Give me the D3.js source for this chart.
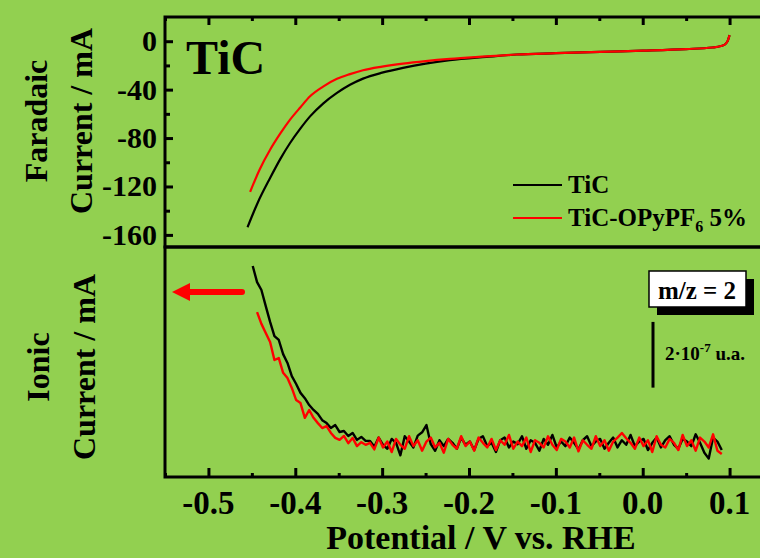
<!DOCTYPE html>
<html><head><meta charset="utf-8">
<script src="https://cdn.jsdelivr.net/npm/d3@7"></script>
<style>
html,body{margin:0;padding:0;background:#92D050;overflow:hidden;}
svg{display:block;}
text{font-family:"Liberation Serif","Times New Roman",serif;font-weight:bold;fill:#000;}
</style></head>
<body>
<svg id="chart" width="760" height="558"></svg>
<script>
// ---------- DATA ----------
const xTicks = [-0.5, -0.4, -0.3, -0.2, -0.1, 0.0, 0.1];
const yTicksFaradaic = [0, -40, -80, -120, -160];
const seriesNames = ["TiC", "TiC-OPyPF6 5%"];

// Faradaic current (mA) vs potential (V vs RHE)
const potFaradaicTiC = [-0.455,-0.443,-0.429,-0.417,-0.406,-0.394,-0.383,-0.368,-0.352,-0.337,-0.322,-0.300,-0.276,-0.250,-0.222,-0.180,-0.145,-0.100,-0.049,0.000,0.050,0.080,0.090,0.095,0.098,0.100];
const faradaicTiC = [-153.7,-133,-113,-97,-84.1,-72,-62.1,-51.5,-42.7,-36,-30.9,-26,-22.0,-18.5,-15.7,-13.0,-11.0,-9.9,-8.8,-7.8,-6.5,-5.2,-4.0,-2.5,0.5,5];
const potFaradaicOPy = [-0.452,-0.441,-0.429,-0.417,-0.406,-0.394,-0.383,-0.368,-0.352,-0.337,-0.322,-0.300,-0.276,-0.250,-0.222,-0.180,-0.145,-0.100,-0.049,0.000,0.050,0.080,0.090,0.095,0.098,0.100];
const faradaicOPy = [-124.5,-106,-89.7,-76,-64.8,-54.5,-45.5,-37.5,-31.1,-27.2,-24.0,-21.0,-18.5,-16.4,-14.6,-12.6,-11.0,-9.9,-8.8,-7.8,-6.5,-5.2,-4.0,-2.5,0.5,5];

// Ionic current (m/z = 2), units of 1e-7 u.a.
const potIonic = [-0.449,-0.444,-0.439,-0.434,-0.429,-0.424,-0.419,-0.414,-0.409,-0.404,
-0.399,-0.394,-0.389,-0.384,-0.379,-0.374,-0.369,-0.364,-0.359,-0.354,
-0.349,-0.344,-0.339,-0.334,-0.329,-0.324,-0.319,-0.314,-0.309,-0.304,
-0.299,-0.294,-0.289,-0.284,-0.279,-0.274,-0.269,-0.264,-0.259,-0.254,
-0.249,-0.244,-0.239,-0.234,-0.229,-0.224,-0.219,-0.214,-0.209,-0.204,
-0.199,-0.194,-0.189,-0.184,-0.179,-0.174,-0.169,-0.164,-0.159,-0.154,
-0.149,-0.144,-0.139,-0.134,-0.129,-0.124,-0.119,-0.114,-0.109,-0.104,
-0.099,-0.094,-0.089,-0.084,-0.079,-0.074,-0.069,-0.064,-0.059,-0.054,
-0.049,-0.044,-0.039,-0.034,-0.029,-0.024,-0.019,-0.014,-0.009,-0.004,
0.001,0.006,0.011,0.016,0.021,0.026,0.031,0.036,0.041,0.046,
0.051,0.056,0.061,0.066,0.071,0.076,0.081,0.086,0.091];
const ionicTiC = [6.42,5.93,5.69,5.20,4.72,4.29,4.17,3.74,3.47,3.07,
2.83,2.56,2.40,2.19,2.04,1.92,1.73,1.64,1.49,1.58,
1.37,1.40,1.25,1.34,1.13,1.22,1.10,
1.10,0.92,1.20,0.98,0.86,1.16,1.04,0.66,1.24,1.08,
0.90,1.26,1.36,1.58,1.00,0.80,1.12,0.94,1.16,1.04,
0.86,1.20,0.98,1.08,0.82,1.16,1.24,0.94,1.04,0.76,
1.12,1.20,0.90,1.08,1.00,1.24,0.86,1.12,1.04,0.80,
1.16,0.98,1.28,0.90,1.08,0.94,1.20,1.04,0.84,1.12,
1.24,0.94,1.08,1.16,0.86,1.04,1.20,0.90,1.12,0.98,
1.28,0.94,1.08,1.16,0.82,1.04,1.20,0.90,1.12,1.24,
0.98,0.86,1.16,1.08,0.94,1.30,1.04,0.74,0.56,1.20,
1.08,0.82];
const ionicOPy = [null,5.02,4.66,4.38,4.11,3.56,3.62,3.17,3.01,2.71,
2.34,2.25,1.80,2.04,1.80,1.64,1.49,1.55,1.34,1.19,
1.13,1.25,1.03,1.19,0.94,1.06,0.98,
1.04,0.84,1.20,0.90,1.08,0.76,1.16,0.98,0.86,1.24,
0.94,1.12,0.80,1.08,1.20,0.90,1.04,0.74,1.16,0.98,
0.86,1.24,0.94,1.08,0.80,1.20,1.04,0.90,1.16,0.82,
1.12,0.98,1.28,0.86,1.08,0.94,1.20,0.76,1.12,1.04,
0.90,1.24,0.98,0.82,1.16,1.08,0.90,1.20,0.78,1.12,
0.98,0.86,1.24,0.94,1.12,0.80,1.08,1.20,1.34,1.18,
1.04,0.86,1.20,0.94,1.12,0.76,1.24,0.98,0.90,1.16,
1.04,0.82,1.28,0.94,1.12,0.80,1.20,1.08,0.90,1.30,
0.80,0.70];

// ---------- CHART ----------
const svg = d3.select("#chart");
const colors = {TiC:"#000000", OPy:"#FF0000"};
const L = 165, R = 773, T1 = 17, B1 = 247, T2 = 247, B2 = 477;

const x = d3.scaleLinear().domain([-0.55, 0.15]).range([L, R]);
const yF = d3.scaleLinear().domain([-170, 20]).range([B1, T1]);
const yI = d3.scaleLinear().domain([0, 7]).range([B2, T2]);

// Frames
const frame = svg.append("g").attr("stroke","#000").attr("stroke-width",3).attr("fill","none");
frame.append("rect").attr("x",L).attr("y",T1).attr("width",R-L).attr("height",B1-T1);
frame.append("rect").attr("x",L).attr("y",T2).attr("width",R-L).attr("height",B2-T2);

// Top x axis (ticks inward)
const xMinor = d3.range(-0.55, 0.151, 0.05).map(v=>+v.toFixed(2)).filter(v=>!xTicks.some(t=>Math.abs(t-v)<1e-6));
svg.append("g").attr("transform",`translate(0,${T1})`)
  .call(d3.axisBottom(x).tickValues(xTicks).tickSize(8).tickFormat(""));
svg.append("g").attr("transform",`translate(0,${T1})`)
  .call(d3.axisBottom(x).tickValues(xMinor).tickSize(4).tickFormat(""));
// Bottom x axis (ticks inward, labels outside)
svg.append("g").attr("transform",`translate(0,${B2})`)
  .call(d3.axisTop(x).tickValues(xTicks).tickSize(9).tickFormat(""));
svg.append("g").attr("transform",`translate(0,${B2})`)
  .call(d3.axisTop(x).tickValues(xMinor).tickSize(4).tickFormat(""));
svg.append("g").selectAll("text").data(xTicks).join("text")
  .attr("x", d=>x(d)).attr("y", 514).attr("text-anchor","middle")
  .style("font-size","33px").text(d=>d.toFixed(1));

// Left y axis top panel
const yMinor = [-20,-60,-100,-140];
svg.append("g").attr("transform",`translate(${L},0)`)
  .call(d3.axisRight(yF).tickValues(yTicksFaradaic).tickSize(8).tickFormat(""));
svg.append("g").attr("transform",`translate(${L},0)`)
  .call(d3.axisRight(yF).tickValues(yMinor).tickSize(5).tickFormat(""));
svg.append("g").selectAll("text").data(yTicksFaradaic).join("text")
  .attr("x", L-8).attr("y", d=>yF(d)+10).attr("text-anchor","end")
  .style("font-size","30px").text(d=>d);

svg.selectAll(".domain").remove();
svg.selectAll(".tick line").attr("stroke","#000").attr("stroke-width",3);

// Faradaic curves
const lineF = d3.line().x(d=>x(d[0])).y(d=>yF(d[1])).curve(d3.curveMonotoneX);
svg.append("path").datum(d3.zip(potFaradaicTiC, faradaicTiC))
  .attr("d", lineF).attr("fill","none").attr("stroke",colors.TiC).attr("stroke-width",2.2);
svg.append("path").datum(d3.zip(potFaradaicOPy, faradaicOPy))
  .attr("d", lineF).attr("fill","none").attr("stroke",colors.OPy).attr("stroke-width",2.2);

// Ionic curves
const lineI = d3.line().defined(d=>d[1]!=null).x(d=>x(d[0])).y(d=>yI(d[1]));
svg.append("path").datum(d3.zip(potIonic, ionicTiC))
  .attr("d", lineI).attr("fill","none").attr("stroke",colors.TiC).attr("stroke-width",2.4).attr("stroke-linejoin","round");
svg.append("path").datum(d3.zip(potIonic, ionicOPy))
  .attr("d", lineI).attr("fill","none").attr("stroke",colors.OPy).attr("stroke-width",2.4).attr("stroke-linejoin","round");

// TiC label
svg.append("text").attr("x",186).attr("y",74).style("font-size","48px").text("TiC");

// Legend
const lg = svg.append("g");
lg.append("line").attr("x1",513).attr("x2",562).attr("y1",185).attr("y2",185).attr("stroke",colors.TiC).attr("stroke-width",2.2);
lg.append("text").attr("x",568).attr("y",193).style("font-size","25px").text("TiC");
lg.append("line").attr("x1",513).attr("x2",562).attr("y1",218).attr("y2",218).attr("stroke",colors.OPy).attr("stroke-width",2.2);
const t2 = lg.append("text").attr("x",568).attr("y",226).style("font-size","25px");
t2.append("tspan").text("TiC-OPyPF");
t2.append("tspan").attr("dy",6).style("font-size","16px").text("6");
t2.append("tspan").attr("dy",-6).text(" 5%");

// Axis titles
function vtitle(lines, cy){
  lines.forEach(l=>{
    svg.append("text").attr("transform",`translate(${l.x},${cy}) rotate(-90)`)
      .attr("text-anchor","middle").style("font-size","32px").text(l.t);
  });
}
vtitle([{t:"Faradaic",x:47},{t:"Current / mA",x:92}], 121);
vtitle([{t:"Ionic",x:49},{t:"Current / mA",x:95}], 367);
svg.append("text").attr("x",481).attr("y",549).attr("text-anchor","middle")
  .style("font-size","34px").text("Potential / V vs. RHE");

// m/z box with shadow
svg.append("rect").attr("x",657).attr("y",279).attr("width",97).attr("height",36).attr("fill","#000");
svg.append("rect").attr("x",649).attr("y",271).attr("width",97).attr("height",36).attr("fill","#fff").attr("stroke","#000").attr("stroke-width",1.5);
svg.append("text").attr("x",697).attr("y",299).attr("text-anchor","middle").style("font-size","25px").text("m/z = 2");

// Scale bar 2e-7
svg.append("line").attr("x1",653).attr("x2",653).attr("y1",yI(4.72)).attr("y2",yI(2.72)).attr("stroke","#000").attr("stroke-width",3);
const sb = svg.append("text").attr("x",665).attr("y",360).style("font-size","19px");
sb.append("tspan").text("2·10");
sb.append("tspan").attr("dy",-8).style("font-size","13px").text("-7");
sb.append("tspan").attr("dy",8).text(" u.a.");

// Red arrow pointing left (to left axis)
svg.append("line").attr("x1",242).attr("x2",186).attr("y1",292).attr("y2",292)
  .attr("stroke","#FF0000").attr("stroke-width",6).attr("stroke-linecap","round");
svg.append("path").attr("d","M172,292 L190,283 L190,301 Z").attr("fill","#FF0000");
</script>
</body></html>
